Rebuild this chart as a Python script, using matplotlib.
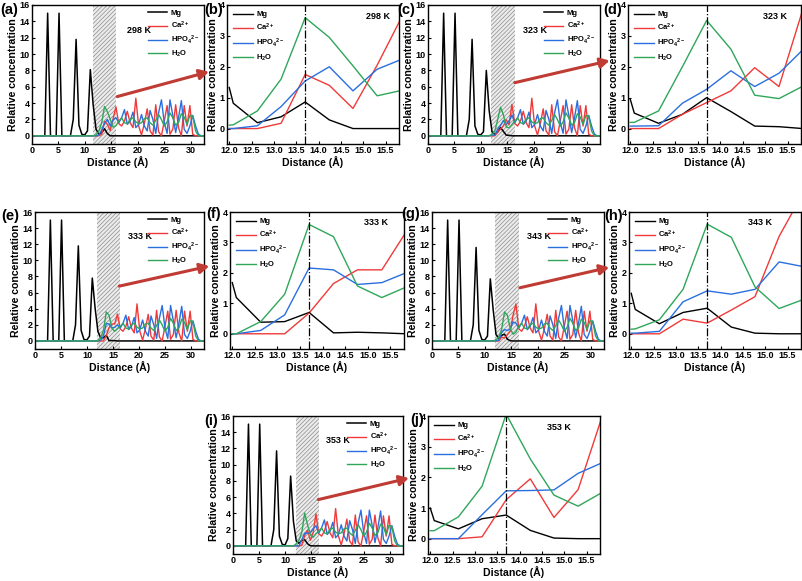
import matplotlib.pyplot as plt
import numpy as np

plt.rcParams['font.family'] = ['Liberation Sans', 'DejaVu Sans']
plt.rcParams['font.weight'] = 'bold'
plt.rcParams['axes.labelweight'] = 'bold'
plt.rcParams['mathtext.fontset'] = 'custom'
plt.rcParams['mathtext.rm'] = 'Liberation Sans:bold'
plt.rcParams['mathtext.bf'] = 'Liberation Sans:bold'
plt.rcParams['mathtext.default'] = 'bf'
plt.rcParams['xtick.direction'] = 'in'
plt.rcParams['ytick.direction'] = 'in'
plt.rcParams['hatch.linewidth'] = 0.5
plt.rcParams['axes.linewidth'] = 1.0

temps = [298, 323, 333, 343, 353]
panel_tags = ['(a)', '(b)', '(c)', '(d)', '(e)', '(f)', '(g)', '(h)', '(i)', '(j)']
species = ['Mg', 'Ca$^{2+}$', 'HPO$_4$$^{2-}$', 'H$_2$O']
colors = ['black', '#f03a3a', '#2a6fe0', '#2fa65a']

# bin centres of the density profile (Angstrom)
bin_width = 0.5375
dist = (np.arange(61) + 0.5) * bin_width

# Mg layers of the slab, bins 0-21
mg_core = {
    298: [0, 0, 0, 0, 0, 15, 0, 0, 0, 15, 0, 0, 0, 0, 2.0, 11.8, 1.3, 0.2, 0.1, 0.6, 8.1, 3.8],
    323: [0, 0, 0, 0, 0, 15, 0, 0, 0, 15, 0, 0, 0, 0, 2.0, 11.8, 1.2, 0.2, 0.1, 0.5, 8.0, 3.1],
    333: [0, 0, 0, 0, 0, 15, 0, 0, 0, 15, 0, 0, 0, 0, 2.0, 11.8, 1.3, 0.2, 0.1, 0.6, 7.8, 4.1],
    343: [0, 0, 0, 0, 0, 15, 0, 0, 0, 15, 0, 0, 0, 0, 2.0, 11.6, 1.3, 0.2, 0.1, 0.6, 7.7, 3.9],
    353: [0, 0, 0, 0, 0, 15, 0, 0, 0, 15, 0, 0, 0, 0, 2.0, 11.7, 1.2, 0.2, 0.1, 0.9, 8.6, 3.0],
}

# interface window (right-hand panels), x in Angstrom
zoom_x = [12.0, 12.09, 12.63, 13.16, 13.70, 14.24, 14.77, 15.31, 15.84]
mg_zoom = {
    298: [1.33, 0.82, 0.19, 0.38, 0.86, 0.28, 0.0, 0.0, 0.0],
    323: [0.95, 0.50, 0.17, 0.46, 1.00, 0.55, 0.08, 0.06, 0.0],
    333: [1.68, 1.19, 0.38, 0.40, 0.70, 0.03, 0.05, 0.03, 0.0],
    343: [1.33, 0.80, 0.33, 0.70, 0.84, 0.22, 0.02, 0.0, 0.0],
    353: [1.00, 0.59, 0.32, 0.65, 0.77, 0.27, 0.02, 0.0, 0.0],
}
ca_zoom = {
    298: [0, 0, 0, 0.17, 1.75, 1.40, 0.65, 2.05, 3.55],
    323: [0, 0, 0, 0.46, 0.84, 1.22, 1.97, 1.36, 3.85],
    333: [0, 0, 0, 0, 0.68, 1.65, 2.10, 2.10, 3.33],
    343: [0, 0, 0, 0.48, 0.35, 0.78, 1.22, 3.20, 4.60],
    353: [0, 0, 0, 0.06, 1.27, 1.95, 0.69, 1.60, 3.95],
}
hpo_zoom = {
    298: [0, 0, 0.09, 0.71, 1.54, 2.00, 1.22, 1.92, 2.23],
    323: [0.08, 0.08, 0.09, 0.82, 1.27, 1.87, 1.36, 1.79, 2.55],
    333: [0, 0, 0.11, 0.62, 2.16, 2.10, 1.62, 1.68, 2.00],
    343: [0.02, 0.02, 0.08, 1.05, 1.41, 1.30, 1.46, 2.36, 2.21],
    353: [0, 0, 0, 0.78, 1.56, 1.57, 1.59, 2.13, 2.47],
}
h2o_zoom = {
    298: [0.11, 0.12, 0.57, 1.60, 3.59, 2.95, 2.03, 1.06, 1.23],
    323: [0.20, 0.20, 0.57, 2.00, 3.50, 2.57, 1.08, 0.97, 1.37],
    333: [0, 0, 0.40, 1.30, 3.59, 3.19, 1.57, 1.19, 1.53],
    343: [0.15, 0.16, 0.46, 1.46, 3.60, 3.17, 1.54, 0.83, 1.12],
    353: [0.26, 0.26, 0.71, 1.71, 4.06, 2.60, 1.42, 1.06, 1.50],
}

# bulk solution, bins 30-60 (practically the same at every temperature)
mg_bulk = [0] * 31
ca_bulk = [1.5, 1.2, 1.8, 3.0, 1.6, 1.0, 4.6, 1.2, 0.1, 1.5, 3.3, 0.6, 0.1, 3.8, 0.5, 0.0,
           1.8, 3.7, 0.2, 0.8, 3.8, 1.0, 0.0, 3.7, 1.2, 3.7, 0.2, 0.0, 0.0, 0.0, 0.0]
hpo_bulk = [1.6, 2.2, 3.2, 1.4, 1.8, 2.9, 1.0, 1.4, 2.6, 1.2, 0.6, 3.1, 2.0, 0.3, 2.8, 4.4,
            1.6, 0.3, 4.4, 2.5, 0.4, 2.2, 4.3, 0.8, 0.3, 1.2, 2.5, 1.2, 0.2, 0.0, 0.0]
h2o_bulk = [1.8, 2.2, 1.6, 1.5, 2.0, 2.2, 1.7, 1.5, 1.6, 2.1, 2.2, 1.6, 1.3, 1.9, 2.6, 2.0,
            1.2, 1.7, 2.8, 2.2, 1.3, 1.6, 2.7, 2.3, 1.4, 2.5, 2.4, 0.6, 0.0, 0.0, 0.0]
empty_core = [0] * 22

# hatched interface band in the overview panels
band = {298: (11.5, 15.9), 323: (11.95, 16.4), 333: (11.95, 16.4), 343: (11.95, 16.4), 353: (11.95, 16.4)}
# arrow start (overview data) and tip (zoom panel axes fraction)
arrow_from = {298: (16.1, 4.8), 323: (16.4, 6.5), 333: (16.2, 6.8), 343: (16.6, 6.6), 353: (16.3, 5.7)}
arrow_to = {298: (-0.105, 0.52), 323: (-0.106, 0.60), 333: (-0.119, 0.605), 343: (-0.115, 0.596), 353: (-0.111, 0.55)}
temp_pos_zoom = {298: 0.88, 323: 0.85, 333: 0.84, 343: 0.76, 353: 0.76}

# axes boxes in pixels (left, top, right, bottom)
W, H = 803, 581
over_box = [(32, 5, 204, 144), (428, 5, 600, 144), (35, 212, 204, 349),
            (432, 212, 604, 349), (233, 416, 403, 554)]
zoom_box = [(227, 5, 399, 144), (628, 5, 801, 144), (230, 212, 404, 349),
            (629, 212, 801, 349), (428, 416, 600, 554)]
tag_pos = [(0, 3), (204, 3), (397, 3), (603, 3), (1, 209), (206, 207),
           (401, 207), (604, 209), (204, 414), (410, 413)]

fig = plt.figure(figsize=(W / 100, H / 100), dpi=100)


def box_axes(b):
    l, t, r, bt = b
    return fig.add_axes([l / W, 1 - bt / H, (r - l) / W, (bt - t) / H])


def style(ax):
    ax.tick_params(labelsize=6.5, length=2.5, width=0.8, pad=1.5)
    ax.set_xlabel('Distance (Å)', fontsize=7.6, labelpad=1)
    ax.set_ylabel('Relative concentration', fontsize=7.6, labelpad=1)


for i, T in enumerate(temps):
    ax = box_axes(over_box[i])
    axz = box_axes(zoom_box[i])

    profs = [np.concatenate([mg_core[T], mg_zoom[T][1:], mg_bulk]),
             np.concatenate([empty_core, ca_zoom[T][1:], ca_bulk]),
             np.concatenate([empty_core, hpo_zoom[T][1:], hpo_bulk]),
             np.concatenate([empty_core, h2o_zoom[T][1:], h2o_bulk])]

    # overview panel
    ax.axvspan(*band[T], facecolor='#ececec', edgecolor='#8c8c8c', hatch='////////', lw=0, zorder=0)
    for name, c, p in zip(species, colors, profs):
        ax.plot(dist, p, color=c, lw=1.1 if c == 'black' else 1.0, label=name)
    ax.set_xlim(0, 32.5)
    ax.set_ylim(-1, 16)
    ax.set_xticks([0, 5, 10, 15, 20, 25, 30])
    ax.set_yticks(range(0, 17, 2))
    style(ax)
    ax.legend(loc='upper right', frameon=False, fontsize=5.5, handlelength=2.6,
              borderaxespad=0.2, labelspacing=0.35, handletextpad=0.4)
    ax.text(0.62, 0.82, f'{T} K', transform=ax.transAxes, fontsize=6.5, ha='center', va='center')

    # zoomed interface panel
    zoom_sets = [mg_zoom[T], ca_zoom[T], hpo_zoom[T], h2o_zoom[T]]
    for name, c, v in zip(species, colors, zoom_sets):
        axz.plot(zoom_x, v, color=c, lw=1.0, label=name)
    axz.axvline(13.70, color='black', ls='-.', lw=0.9)
    axz.set_xlim(11.95, 15.8)
    axz.set_ylim(-0.5, 4)
    axz.set_xticks([12.0, 12.5, 13.0, 13.5, 14.0, 14.5, 15.0, 15.5])
    axz.set_xticklabels([f'{t:.1f}' for t in [12.0, 12.5, 13.0, 13.5, 14.0, 14.5, 15.0, 15.5]])
    axz.set_yticks([0, 1, 2, 3, 4])
    style(axz)
    axz.legend(loc='upper left', frameon=False, fontsize=5.5, handlelength=2.6,
               borderaxespad=0.4, labelspacing=0.45, handletextpad=0.4)
    axz.text(temp_pos_zoom[T], 0.92, f'{T} K', transform=axz.transAxes, fontsize=6.5,
             ha='center', va='center')

    # arrow from the interface band to the zoomed panel
    ax.annotate('', xy=arrow_to[T], xycoords=axz.transAxes,
                xytext=arrow_from[T], textcoords='data', annotation_clip=False,
                arrowprops=dict(arrowstyle='-|>,head_length=0.55,head_width=0.3',
                                color='#bf3b34', lw=2.2, shrinkA=0, shrinkB=0))

for tag, (x, y) in zip(panel_tags, tag_pos):
    fig.text(x / W, 1 - y / H, tag, fontsize=10.5, ha='left', va='top')

fig.savefig('out.png', dpi=100)
